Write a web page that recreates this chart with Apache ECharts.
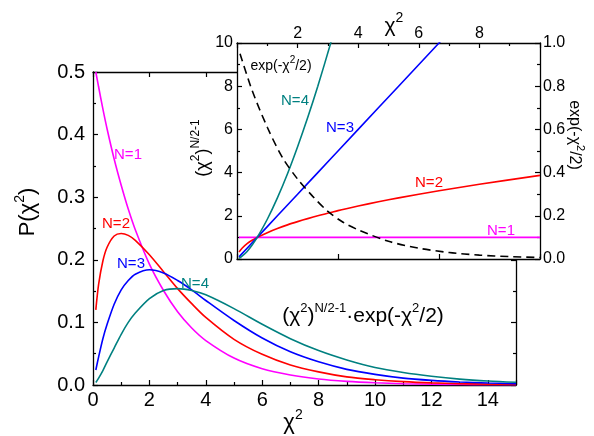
<!DOCTYPE html>
<html>
<head>
<meta charset="utf-8">
<script src="https://cdn.jsdelivr.net/npm/echarts@6/dist/echarts.min.js"></script>
<style>
html, body { margin: 0; padding: 0; background: #fff; }
#main { width: 594px; height: 436px; }
</style>
</head>
<body>
<div id="main"></div>
<script>
const FONT = 'Liberation Sans, Arial, sans-serif'

// main plot
const chiMain = [0.1, 0.2, 0.35, 0.5, 0.75, 1, 1.25, 1.5, 2, 2.5, 3, 3.5, 4, 5, 6, 7, 8, 9, 10, 11, 12, 13, 14, 15]
const pN1 = [0.5, 0.476, 0.441, 0.409, 0.361, 0.319, 0.281, 0.248, 0.193, 0.151, 0.117, 0.091, 0.071, 0.043, 0.026, 0.016, 0.0096, 0.0058, 0.0035, 0.0021, 0.0013, 0.0008, 0.0005, 0.0003]
const pN2 = [0.120, 0.161, 0.198, 0.220, 0.238, 0.242, 0.239, 0.231, 0.208, 0.181, 0.154, 0.130, 0.108, 0.073, 0.049, 0.032, 0.021, 0.013, 0.0085, 0.0054, 0.0034, 0.0022, 0.0014, 0.0009]
const pN3 = [0.024, 0.045, 0.074, 0.097, 0.129, 0.152, 0.167, 0.177, 0.184, 0.179, 0.167, 0.152, 0.135, 0.103, 0.075, 0.053, 0.037, 0.025, 0.017, 0.011, 0.0074, 0.0049, 0.0032, 0.0021]
const pN4 = [0.004, 0.011, 0.023, 0.037, 0.059, 0.081, 0.100, 0.115, 0.138, 0.151, 0.154, 0.151, 0.144, 0.122, 0.097, 0.074, 0.055, 0.040, 0.028, 0.020, 0.014, 0.0094, 0.0063, 0.0043]

// inset, solid curves on the bottom (0-15) scale
const chiIn = [0.1, 0.25, 0.5, 0.75, 1, 1.5, 2, 2.5, 3, 3.5, 4, 4.64, 5, 6, 7, 8, 10, 12, 15]
const qN1 = [1, 1, 1, 1, 1, 1, 1, 1, 1, 1, 1, 1, 1, 1, 1, 1, 1, 1, 1]
const qN2 = [0.32, 0.5, 0.71, 0.87, 1, 1.22, 1.41, 1.58, 1.73, 1.87, 2, 2.15, 2.24, 2.45, 2.65, 2.83, 3.16, 3.46, 3.87]
const qN3 = [0.1, 0.25, 0.5, 0.75, 1, 1.5, 2, 2.5, 3, 3.5, 4, 4.64, 5, 6, 7, 8, 10, 12, 15]
const qN4 = [0.03, 0.13, 0.35, 0.65, 1, 1.84, 2.83, 3.95, 5.2, 6.55, 8, 10, 11.2, 14.7, 18.5, 22.6, 31.6, 41.6, 58.1]

// inset, dashed curve on the top (0-10) scale and right axis
const chiTop = [0.1, 0.5, 1, 1.5, 2, 2.5, 3, 3.5, 4, 5, 6, 7, 8, 9, 10]
const expVal = [0.95, 0.78, 0.61, 0.47, 0.37, 0.29, 0.22, 0.17, 0.135, 0.082, 0.05, 0.03, 0.018, 0.011, 0.007]

const colors = ['#ff00ff', '#ff0000', '#0000ff', '#008080']

const zip = (xs, ys) => xs.map((x, i) => [x, ys[i]])

const axisBase = (extra) => Object.assign({
    type: 'value',
    axisLine: { show: true, onZero: false, lineStyle: { color: '#000', width: 1.3 } },
    axisTick: { show: true, inside: true, length: 5, lineStyle: { color: '#000', width: 1.2 } },
    minorTick: { show: false },
    splitLine: { show: false },
    axisLabel: { show: false },
}, extra)

const minor = { show: true, splitNumber: 2, length: 3, lineStyle: { color: '#000', width: 1.2 } }

const rich = (size, sup, fill) => ({
    n: { fontSize: size, fontFamily: FONT, fill: fill, lineHeight: size + 4, verticalAlign: 'bottom' },
    s: { fontSize: sup, fontFamily: FONT, fill: fill, lineHeight: sup + 2, verticalAlign: 'top' },
})

const txt = (x, y, text, size, sup, fill, rotation) => ({
    type: 'text',
    x: x,
    y: y,
    rotation: rotation || 0,
    z: 20,
    style: {
        text: text,
        rich: rich(size, sup, fill),
        fill: fill,
        font: size + 'px ' + FONT,
        align: 'center',
        verticalAlign: 'middle',
    },
})

const lineSeries = (data, color, xi, yi, z, extra) => Object.assign({
    type: 'line',
    data: data,
    xAxisIndex: xi,
    yAxisIndex: yi,
    showSymbol: false,
    smooth: 0.3,
    z: z,
    lineStyle: { color: color, width: 1.6 },
    itemStyle: { color: color },
    silent: true,
    animation: false,
}, extra || {})

const chart = echarts.init(document.querySelector('#main'))

const option = {
    animation: false,
    backgroundColor: '#fff',
    textStyle: { fontFamily: FONT, color: '#000' },
    grid: [
        { left: 93, top: 72, right: 78, bottom: 51, containLabel: false, outerBoundsMode: 'none' },
        { left: 237, top: 43, right: 54, bottom: 177, containLabel: false, outerBoundsMode: 'none',
          show: true, backgroundColor: '#fff', borderWidth: 0, z: 5 },
    ],
    xAxis: [
        axisBase({ gridIndex: 0, position: 'bottom', min: 0, max: 15, interval: 2, minorTick: minor,
            axisLabel: { show: true, fontSize: 20, fontFamily: FONT, color: '#000', margin: 5, showMaxLabel: false } }),
        axisBase({ gridIndex: 0, position: 'top', min: 0, max: 15, interval: 2 }),
        axisBase({ gridIndex: 1, position: 'bottom', min: 0, max: 15, interval: 5, z: 6 }),
        axisBase({ gridIndex: 1, position: 'top', min: 0, max: 10, interval: 2, z: 6, minorTick: minor,
            axisLabel: { show: true, fontSize: 16, fontFamily: FONT, color: '#000', margin: 1,
                showMinLabel: false, showMaxLabel: false } }),
    ],
    yAxis: [
        axisBase({ gridIndex: 0, position: 'left', min: 0, max: 0.5, interval: 0.1, minorTick: minor,
            axisLabel: { show: true, fontSize: 20, fontFamily: FONT, color: '#000', margin: 8,
                formatter: v => v.toFixed(1) } }),
        axisBase({ gridIndex: 0, position: 'right', min: 0, max: 0.5, interval: 0.1, minorTick: minor }),
        axisBase({ gridIndex: 1, position: 'left', min: 0, max: 10, interval: 2, z: 6, minorTick: minor,
            axisLabel: { show: true, fontSize: 16, fontFamily: FONT, color: '#000', margin: 4 } }),
        axisBase({ gridIndex: 1, position: 'right', min: 0, max: 1, interval: 0.2, z: 6, minorTick: minor,
            axisLabel: { show: true, fontSize: 16, fontFamily: FONT, color: '#000', margin: 3,
                formatter: v => v.toFixed(1) } }),
    ],
    series: [
        lineSeries(zip(chiMain, pN1), colors[0], 0, 0, 2),
        lineSeries(zip(chiMain, pN2), colors[1], 0, 0, 2),
        lineSeries(zip(chiMain, pN3), colors[2], 0, 0, 2),
        lineSeries(zip(chiMain, pN4), colors[3], 0, 0, 2),
        lineSeries(zip(chiIn, qN1), colors[0], 2, 2, 7, { smooth: false }),
        lineSeries(zip(chiIn, qN2), colors[1], 2, 2, 7),
        lineSeries(zip(chiIn, qN3), colors[2], 2, 2, 7, { smooth: false }),
        lineSeries(zip(chiIn, qN4), colors[3], 2, 2, 7),
        lineSeries(zip(chiTop, expVal), '#000', 3, 3, 7, { lineStyle: { color: '#000', width: 1.6, type: [8, 5] } }),
    ],
    graphic: [
        txt(26, 212, '{n|P(χ}{s|2}{n|)}', 22, 14, '#000', Math.PI / 2),
        txt(293, 421, '{n|χ}{s|2}', 22, 14, '#000'),
        txt(394, 24, '{n|χ}{s|2}', 21, 14, '#000'),
        txt(201, 148, '{n|(χ}{s|2}{n|)}{s|N/2-1}', 18, 12, '#000', Math.PI / 2),
        txt(576, 135, '{n|exp(-χ}{s|2}{n|/2)}', 16, 11, '#000', -Math.PI / 2),
        txt(363, 314, '{n|(χ}{s|2}{n|)}{s|N/2-1}{n|·exp(-χ}{s|2}{n|/2)}', 21, 13, '#000'),
        txt(128, 153, '{n|N=1}', 15, 10, colors[0]),
        txt(116, 222, '{n|N=2}', 15, 10, colors[1]),
        txt(131, 262, '{n|N=3}', 15, 10, colors[2]),
        txt(195, 282, '{n|N=4}', 15, 10, colors[3]),
        txt(281, 64, '{n|exp(-χ}{s|2}{n|/2)}', 14, 10, '#000'),
        txt(295, 99, '{n|N=4}', 15, 10, colors[3]),
        txt(340, 126, '{n|N=3}', 15, 10, colors[2]),
        txt(429, 181, '{n|N=2}', 15, 10, colors[1]),
        txt(501, 229, '{n|N=1}', 15, 10, colors[0]),
    ],
}

chart.setOption(option)
</script>
</body>
</html>
